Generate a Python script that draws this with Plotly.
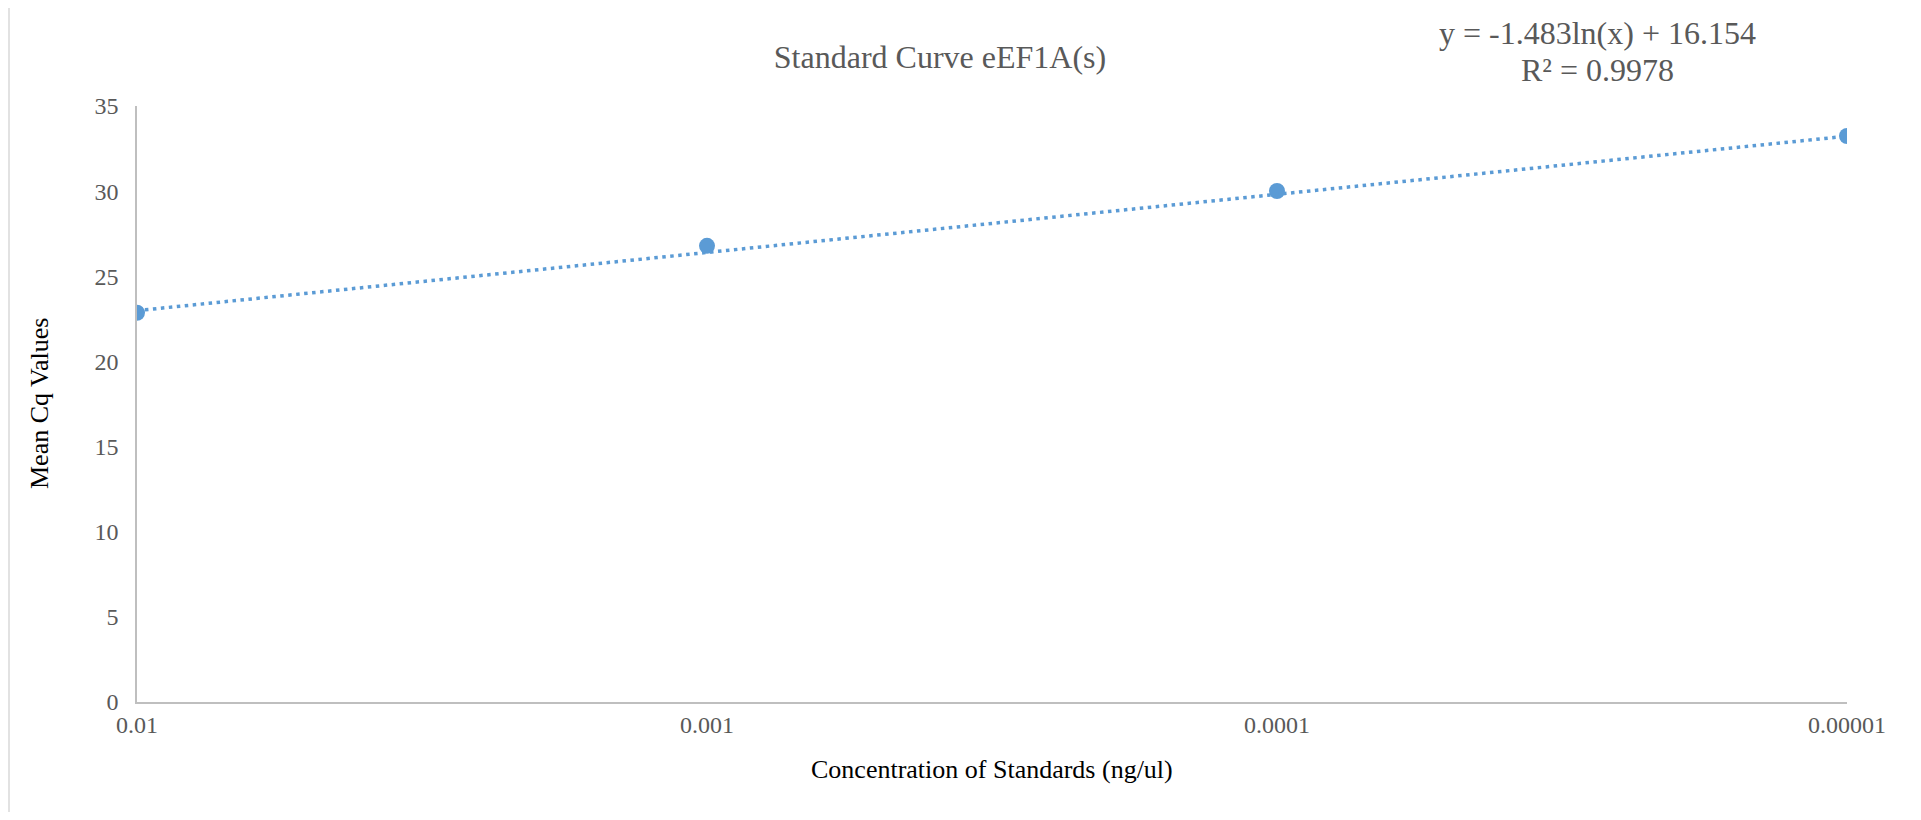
import numpy as np
import plotly.graph_objects as go

# ---- data ----
concentrations = [0.01, 0.001, 0.0001, 0.00001]
tick_labels = ["0.01", "0.001", "0.0001", "0.00001"]
mean_cq = [22.86, 26.79, 30.01, 33.24]
trend_slope = -1.483
trend_intercept = 16.154
trend_r2 = 0.9978

# ---- layout geometry (page pixels; the page body has an 8px margin) ----
OFF = 8
W, H = 1921 - 2 * OFF, 820 - 2 * OFF
PLOT_L, PLOT_R, PLOT_T, PLOT_B = 137, 1847, 106, 702  # page coords
L = PLOT_L - OFF
T = PLOT_T - OFF
R = W - (PLOT_R - OFF)
B = H - (PLOT_B - OFF)
pw, ph = W - L - R, H - T - B


def px_x(x):
    return (x - OFF - L) / pw


def px_y(y):
    return (H - B - (y - OFF)) / ph


FONT = "Liberation Serif, Times New Roman, serif"
GRAY = "#595959"
BLUE = "#5B9BD5"

x_arr = np.array(concentrations)
trend_y = trend_slope * np.log(x_arr) + trend_intercept

fig = go.Figure()
fig.add_trace(go.Scatter(
    x=concentrations, y=mean_cq, mode="markers",
    marker=dict(color=BLUE, size=16, line=dict(width=0)),
    showlegend=False, hoverinfo="x+y"))
fig.add_trace(go.Scatter(
    x=concentrations, y=trend_y, mode="lines",
    line=dict(color=BLUE, width=3.5, dash="3.5px,4.5px"),
    showlegend=False, hoverinfo="skip"))

fig.update_layout(
    width=W, height=H,
    margin=dict(l=L, r=R, t=T, b=B, pad=0),
    paper_bgcolor="white", plot_bgcolor="white",
    font=dict(family=FONT, color=GRAY, size=24),
    title=dict(text="Standard Curve eEF1A(s)", x=(940 - OFF) / W, y=1 - (57 - OFF) / H,
               xanchor="center", yanchor="middle",
               font=dict(family=FONT, size=32, color=GRAY)),
    xaxis=dict(type="log", range=[np.log10(concentrations[0]), np.log10(concentrations[-1])],
               tickmode="array", tickvals=concentrations, ticktext=tick_labels,
               showgrid=False, zeroline=False, showline=True,
               linecolor="#BFBFBF", linewidth=2, ticks="",
               ticklabelstandoff=0,
               tickfont=dict(family=FONT, size=24, color=GRAY)),
    yaxis=dict(range=[0, 35], dtick=5, tick0=0,
               showgrid=False, zeroline=False, showline=True,
               linecolor="#BFBFBF", linewidth=1.5, ticks="",
               ticklabelstandoff=12,
               tickfont=dict(family=FONT, size=24, color=GRAY)),
    shapes=[dict(type="rect", xref="paper", yref="paper",
                 x0=px_x(9), x1=px_x(1915), y0=px_y(813), y1=px_y(6),
                 line=dict(color="#D9D9D9", width=1.5), fillcolor="rgba(0,0,0,0)",
                 layer="below")],
    annotations=[
        dict(text=f"y = {trend_slope:.3f}ln(x) + {trend_intercept:.3f}",
             xref="paper", yref="paper", x=px_x(1597), y=px_y(33),
             xanchor="center", yanchor="middle", showarrow=False,
             font=dict(family=FONT, size=32, color=GRAY)),
        dict(text=f"R² = {trend_r2:.4f}",
             xref="paper", yref="paper", x=px_x(1597), y=px_y(70),
             xanchor="center", yanchor="middle", showarrow=False,
             font=dict(family=FONT, size=32, color=GRAY)),
        dict(text="Concentration of Standards (ng/ul)",
             xref="paper", yref="paper", x=px_x(992), y=px_y(769),
             xanchor="center", yanchor="middle", showarrow=False,
             font=dict(family=FONT, size=26, color="black")),
        dict(text="Mean Cq Values", textangle=-90,
             xref="paper", yref="paper", x=px_x(39), y=px_y(404),
             xanchor="center", yanchor="middle", showarrow=False,
             font=dict(family=FONT, size=26, color="black")),
    ],
)

fig.write_html("out.html")
